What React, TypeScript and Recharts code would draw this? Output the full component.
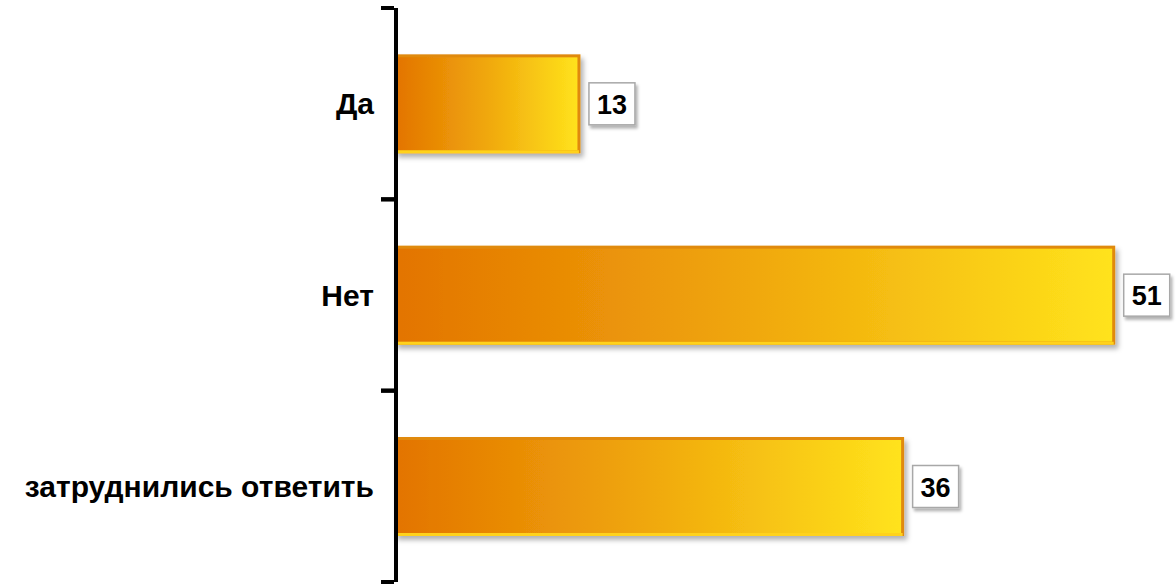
import React from 'react';
import { BarChart, Bar, XAxis, YAxis, LabelList } from 'recharts';

const categories = ['Да', 'Нет', 'затруднились ответить'];
const values = [13, 51, 36];

const data = categories.map((name, i) => ({ name, value: values[i] }));

const W = 1176;
const H = 588;
const margin = { top: 8, right: 6, bottom: 6, left: 0 };
const band = (H - margin.top - margin.bottom) / categories.length;

const CategoryTick = (props: any) => {
  const { x, y, payload } = props;
  return (
    <g>
      <line x1={x - 7} x2={x + 6} y1={y - band / 2} y2={y - band / 2} stroke="#000" strokeWidth={4} />
      <line x1={x - 7} x2={x + 6} y1={y + band / 2} y2={y + band / 2} stroke="#000" strokeWidth={4} />
      <text
        x={x - 14}
        y={y}
        textAnchor="end"
        dominantBaseline="central"
        fontFamily="Arial, 'Liberation Sans', sans-serif"
        fontWeight="bold"
        fontSize={30}
        fill="#000"
      >
        {payload.value}
      </text>
    </g>
  );
};

const BarShape = (props: any) => {
  const { x, y, width, height } = props;
  return (
    <g filter="url(#barShadow)">
      <rect x={x} y={y} width={width} height={height} fill="url(#barFill)" stroke="#E08A0C" strokeWidth={3} />
      <line x1={x} x2={x + width} y1={y + height} y2={y + height} stroke="#FFD21A" strokeWidth={3} />
    </g>
  );
};

const ValueBox = (props: any) => {
  const { x, y, width, height, value } = props;
  const bx = x + width + 10;
  const by = y + height / 2 - 21;
  return (
    <g>
      <rect x={bx} y={by} width={46} height={42} fill="#fff" stroke="#A8A8A8" strokeWidth={1.5} filter="url(#boxShadow)" />
      <text
        x={bx + 23}
        y={by + 22}
        textAnchor="middle"
        dominantBaseline="central"
        fontFamily="Arial, 'Liberation Sans', sans-serif"
        fontWeight="bold"
        fontSize={27}
        fill="#000"
      >
        {value}
      </text>
    </g>
  );
};

export default function App() {
  return (
    <div style={{ position: 'fixed', left: 0, top: 0, background: '#fff' }}>
      <BarChart width={W} height={H} data={data} layout="vertical" margin={margin} barCategoryGap="25%">
        <defs>
          <linearGradient id="barFill" x1="0" y1="0" x2="1" y2="0">
            <stop offset="0%" stopColor="#E37400" />
            <stop offset="50%" stopColor="#F0A80C" />
            <stop offset="100%" stopColor="#FFE31C" />
          </linearGradient>
          <filter id="barShadow" x="-5%" y="-10%" width="115%" height="130%">
            <feDropShadow dx={3} dy={4} stdDeviation={2.5} floodColor="#000" floodOpacity={0.3} />
          </filter>
          <filter id="boxShadow" x="-20%" y="-20%" width="150%" height="150%">
            <feDropShadow dx={2} dy={3} stdDeviation={1.5} floodColor="#000" floodOpacity={0.3} />
          </filter>
        </defs>
        <XAxis type="number" domain={[0, 55]} hide />
        <YAxis
          type="category"
          dataKey="name"
          width={396}
          axisLine={{ stroke: '#000', strokeWidth: 4 }}
          tickLine={false}
          tick={<CategoryTick />}
        />
        <Bar dataKey="value" shape={<BarShape />} isAnimationActive={false}>
          <LabelList dataKey="value" content={<ValueBox />} />
        </Bar>
      </BarChart>
    </div>
  );
}
